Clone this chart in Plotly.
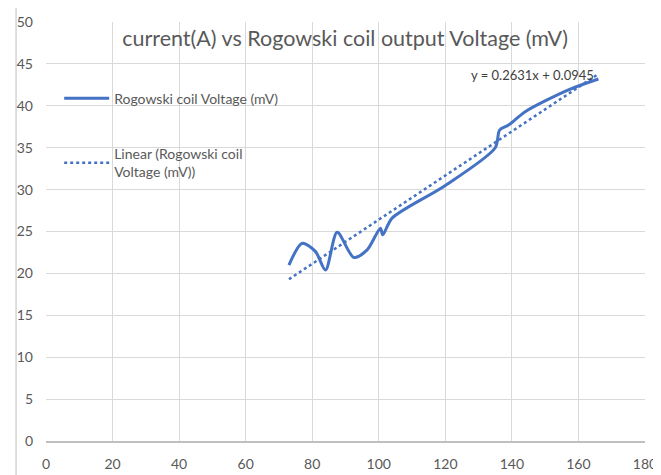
import plotly.graph_objects as go

# Data
current_a = [73, 77, 81, 84, 87.5, 92.5, 96.5, 100.5, 101.2, 104, 120, 135, 136.3, 139, 144, 157, 166]
voltage_mv = [21.0, 23.6, 22.6, 20.4, 24.9, 21.9, 22.8, 25.4, 24.6, 26.6, 30.5, 35.0, 37.1, 37.7, 39.3, 41.9, 43.2]

trend_x = [73, 166]
trend_y = [19.3, 43.8]

x_ticks = [0, 20, 40, 60, 80, 100, 120, 140, 160, 180]
y_ticks = [0, 5, 10, 15, 20, 25, 30, 35, 40, 45, 50]

title_text = "current(A) vs Rogowski coil output Voltage (mV)"
equation_text = "y = 0.2631x + 0.0945"

FONT = "Lato, Carlito, sans-serif"
BLUE = "#4472C4"
GRID = "#D9D9D9"
TXT = "#595959"

fig = go.Figure()
fig.add_trace(go.Scatter(
    x=current_a, y=voltage_mv, mode="lines",
    line=dict(color=BLUE, width=3, shape="spline", smoothing=0.8),
    name="Rogowski coil Voltage (mV)", legendgroup="a",
))
fig.add_trace(go.Scatter(
    x=trend_x, y=trend_y, mode="lines",
    line=dict(color=BLUE, width=2.5, dash="dot"),
    name="Linear (Rogowski coil<br>Voltage (mV))", legendgroup="b",
))

fig.add_annotation(
    x=146.3, y=43.7, xref="x", yref="y", text=equation_text, showarrow=False,
    font=dict(family=FONT, size=13, color="#404040"), xanchor="center", yanchor="middle",
)

# chart-area outline (spreadsheet look)
fig.add_shape(type="rect", xref="paper", yref="paper",
              x0=-0.05, x1=1.2, y0=-0.5, y1=1.045,
              line=dict(color="#BFBFBF", width=1), fillcolor="rgba(0,0,0,0)", layer="below")

fig.update_layout(
    width=661, height=475,
    margin=dict(l=38, r=24, t=14, b=42, autoexpand=False),
    paper_bgcolor="white", plot_bgcolor="white",
    font=dict(family=FONT, size=14, color=TXT),
    title=dict(text=title_text, x=0.51, xanchor="center", y=1 - 30 / 475, yanchor="middle",
               yref="container", font=dict(family=FONT, size=21.5, color=TXT)),
    showlegend=True,
    legend=dict(x=0.022, y=0.855, xanchor="left", yanchor="top", bgcolor="rgba(0,0,0,0)",
                font=dict(family=FONT, size=14, color=TXT), itemwidth=45,
                tracegroupgap=34, traceorder="grouped"),
    xaxis=dict(range=[0, 180], tickvals=x_ticks, showgrid=True, gridcolor=GRID, gridwidth=1,
               zeroline=False, showline=True, linecolor="#BFBFBF", linewidth=1.5,
               automargin=False, ticks="", ticklen=0, ticklabelstandoff=9,
               tickfont=dict(family=FONT, size=14, color=TXT)),
    yaxis=dict(range=[0, 50], tickvals=y_ticks, showgrid=True, gridcolor=GRID, gridwidth=1,
               zeroline=False, showline=False, ticks="", ticklabelstandoff=12, automargin=False,
               tickfont=dict(family=FONT, size=14, color=TXT)),
)

fig.write_html("out.html")
